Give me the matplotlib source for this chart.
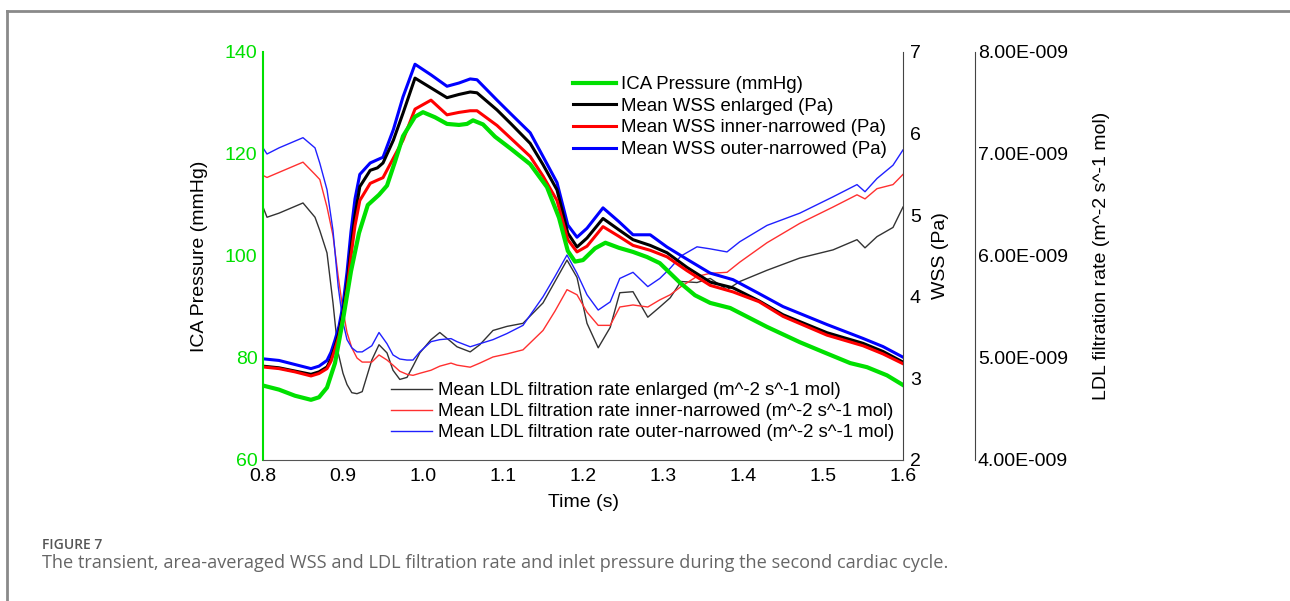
import matplotlib
matplotlib.use("Agg")
import matplotlib.pyplot as plt
from matplotlib.lines import Line2D

plt.rcParams['font.family'] = ['Liberation Sans', 'DejaVu Sans']
plt.rcParams['lines.solid_joinstyle'] = 'round'

# ICA pressure (mmHg)
p_t = [0.8, 0.82, 0.84, 0.86, 0.87, 0.88, 0.89, 0.9, 0.91, 0.92, 0.931, 0.945, 0.955, 0.965, 0.975,
       0.99, 1.0, 1.015, 1.03, 1.045, 1.055, 1.0625, 1.075, 1.09, 1.11, 1.134, 1.155, 1.17,
       1.181, 1.19, 1.2, 1.215, 1.228, 1.245, 1.2625, 1.28, 1.296, 1.321, 1.34, 1.359, 1.384,
       1.43, 1.471, 1.5, 1.534, 1.555, 1.58, 1.6]
p_v = [74.6, 73.8, 72.6, 71.8, 72.3, 74.2, 79.0, 87.5, 97.0, 104.5, 110.0, 112.0, 113.8, 118.5, 123.5,
       127.3, 128.2, 127.2, 125.9, 125.7, 125.9, 126.6, 125.8, 123.4, 121.0, 118.0, 113.5, 107.5,
       101.0, 98.9, 99.2, 101.5, 102.6, 101.6, 100.8, 99.8, 98.6, 94.8, 92.3, 90.8, 89.8,
       86.1, 83.1, 81.2, 79.0, 78.2, 76.6, 74.7]

# mean WSS (Pa)
w_t = [0.8, 0.82, 0.84, 0.86, 0.87, 0.88, 0.885, 0.89, 0.895, 0.9, 0.905, 0.91, 0.915, 0.921, 0.934,
       0.943, 0.95, 0.963, 0.975, 0.99, 1.01, 1.03, 1.045, 1.059, 1.0675, 1.0925, 1.11, 1.134,
       1.15, 1.1675, 1.181, 1.1925, 1.205, 1.225, 1.245, 1.2625, 1.284, 1.305, 1.33, 1.359,
       1.3875, 1.42, 1.45, 1.505, 1.55, 1.575, 1.6]
wss_enl = [3.15, 3.13, 3.09, 3.05, 3.08, 3.14, 3.24, 3.39, 3.56, 3.80, 4.15, 4.60, 5.00, 5.35, 5.55,
           5.58, 5.64, 5.92, 6.25, 6.68, 6.56, 6.44, 6.48, 6.51, 6.50, 6.29, 6.12, 5.88,
           5.62, 5.31, 4.78, 4.61, 4.72, 4.96, 4.82, 4.70, 4.63, 4.54, 4.36, 4.18,
           4.11, 3.95, 3.78, 3.56, 3.43, 3.33, 3.20]
wss_inn = [3.14, 3.12, 3.08, 3.03, 3.06, 3.12, 3.21, 3.36, 3.52, 3.75, 4.08, 4.50, 4.87, 5.18, 5.39,
           5.43, 5.46, 5.70, 5.92, 6.30, 6.41, 6.23, 6.26, 6.28, 6.28, 6.10, 5.94, 5.72,
           5.48, 5.18, 4.70, 4.55, 4.62, 4.86, 4.74, 4.63, 4.57, 4.49, 4.32, 4.14,
           4.06, 3.94, 3.76, 3.53, 3.40, 3.30, 3.18]
wss_out = [3.24, 3.22, 3.17, 3.12, 3.15, 3.22, 3.32, 3.47, 3.64, 3.90, 4.30, 4.80, 5.20, 5.50, 5.64,
           5.68, 5.71, 6.05, 6.45, 6.85, 6.72, 6.58, 6.62, 6.67, 6.66, 6.41, 6.24, 6.01,
           5.72, 5.40, 4.88, 4.73, 4.84, 5.09, 4.92, 4.76, 4.76, 4.61, 4.46, 4.29,
           4.21, 4.04, 3.88, 3.66, 3.49, 3.39, 3.26]

# mean LDL filtration rate (1e-9 m^-2 s^-1 mol)
l_t = [0.8, 0.805, 0.82, 0.835, 0.85, 0.865, 0.871, 0.88, 0.8875, 0.894, 0.9, 0.905, 0.911, 0.9175,
       0.924, 0.936, 0.945, 0.955, 0.9625, 0.971, 0.98, 0.9875, 0.996, 1.01, 1.021, 1.035,
       1.0425, 1.059, 1.071, 1.0875, 1.105, 1.125, 1.15, 1.165, 1.18, 1.1925, 1.205, 1.219,
       1.234, 1.246, 1.2625, 1.281, 1.296, 1.309, 1.3225, 1.3425, 1.359, 1.38, 1.396, 1.43,
       1.471, 1.5125, 1.5425, 1.5525, 1.5675, 1.5875, 1.6]
ldl_enl = [6.48, 6.38, 6.42, 6.47, 6.52, 6.38, 6.25, 6.03, 5.54, 5.05, 4.85, 4.74, 4.66, 4.65,
           4.67, 4.98, 5.13, 5.05, 4.88, 4.79, 4.81, 4.92, 5.05, 5.18, 5.25, 5.16,
           5.11, 5.06, 5.13, 5.27, 5.31, 5.34, 5.54, 5.75, 5.96, 5.79, 5.34, 5.10,
           5.30, 5.64, 5.65, 5.40, 5.50, 5.59, 5.75, 5.74, 5.78, 5.67, 5.75, 5.86,
           5.98, 6.06, 6.16, 6.08, 6.19, 6.28, 6.48]
ldl_inn = [6.79, 6.77, 6.82, 6.87, 6.92, 6.80, 6.75, 6.48, 6.20, 5.80, 5.47, 5.25, 5.10, 5.00,
           4.96, 4.96, 5.03, 4.98, 4.93, 4.87, 4.84, 4.83, 4.85, 4.88, 4.92, 4.95,
           4.93, 4.91, 4.95, 5.01, 5.04, 5.08, 5.27, 5.46, 5.67, 5.62, 5.45, 5.32,
           5.32, 5.50, 5.52, 5.50, 5.57, 5.62, 5.70, 5.80, 5.83, 5.84, 5.94, 6.13,
           6.32, 6.48, 6.60, 6.56, 6.66, 6.70, 6.80]
ldl_out = [7.06, 7.00, 7.06, 7.11, 7.16, 7.06, 6.91, 6.65, 6.25, 5.70, 5.35, 5.18, 5.10, 5.06,
           5.06, 5.12, 5.25, 5.14, 5.03, 4.99, 4.98, 4.98, 5.06, 5.16, 5.18, 5.19,
           5.16, 5.11, 5.14, 5.18, 5.24, 5.32, 5.60, 5.80, 6.01, 5.83, 5.62, 5.47,
           5.55, 5.78, 5.84, 5.70, 5.78, 5.88, 6.00, 6.09, 6.07, 6.04, 6.14, 6.30,
           6.42, 6.58, 6.70, 6.63, 6.76, 6.89, 7.04]

W, H = 1290, 601
fig = plt.figure(figsize=(W / 100, H / 100), dpi=100)

# page frame (top and left rule)
fig.add_artist(Line2D([7 / W, 1], [1 - 11 / H, 1 - 11 / H], color='#8a8a8a', lw=2))
fig.add_artist(Line2D([7 / W, 7 / W], [0, 1 - 11 / H], color='#8a8a8a', lw=2))

green = '#00e000'
ax = fig.add_axes([263 / W, 1 - 460 / H, 640 / W, 408 / H])
ax2 = ax.twinx()
ax3 = ax.twinx()
ax3.spines['right'].set_position(('axes', (975 - 263) / 640))

ax3.plot(l_t, ldl_enl, color='#333333', lw=1)
ax3.plot(l_t, ldl_inn, color='#ff3030', lw=1)
ax3.plot(l_t, ldl_out, color='#2020ff', lw=1)
ax2.plot(w_t, wss_out, color='#0000ff', lw=2.2)
ax2.plot(w_t, wss_enl, color='#000000', lw=2.2)
ax2.plot(w_t, wss_inn, color='#ff0000', lw=2.2)
ax.plot(p_t, p_v, color=green, lw=3)
ax.set_zorder(3)
ax.patch.set_visible(False)
ax2.set_zorder(2)

ax.set_xlim(0.8, 1.6)
ax.set_ylim(60, 140)
ax2.set_ylim(2, 7)
ax3.set_ylim(4, 8)
ax.set_xticks([0.8, 0.9, 1.0, 1.1, 1.2, 1.3, 1.4, 1.5, 1.6])
ax.set_xticklabels(['0.8', '0.9', '1.0', '1.1', '1.2', '1.3', '1.4', '1.5', '1.6'])
ax.set_yticks([60, 80, 100, 120, 140])
ax2.set_yticks([2, 3, 4, 5, 6, 7])
ax3.set_yticks([4, 5, 6, 7, 8])
ax3.set_yticklabels(['4.00E-009', '5.00E-009', '6.00E-009', '7.00E-009', '8.00E-009'])

for a in (ax, ax2, ax3):
    a.spines['top'].set_visible(False)
    a.tick_params(length=0, labelsize=14)
ax.spines['left'].set_color(green)
ax.spines['left'].set_linewidth(1.5)
ax.spines['right'].set_visible(False)
ax.spines['bottom'].set_color('#555555')
ax2.spines['left'].set_visible(False)
ax2.spines['bottom'].set_visible(False)
ax2.spines['right'].set_color('#444444')
ax3.spines['left'].set_visible(False)
ax3.spines['bottom'].set_visible(False)
ax3.spines['right'].set_color('#444444')
ax.tick_params(axis='y', colors=green, pad=4)
ax.tick_params(axis='x', pad=6)
ax2.tick_params(axis='y', pad=5)
ax3.tick_params(axis='y', pad=2)

ax.set_xlabel('Time (s)', fontsize=14, labelpad=6)
ax.set_ylabel('ICA Pressure (mmHg)', fontsize=14, labelpad=12)
ax2.set_ylabel('WSS (Pa)', fontsize=14, labelpad=8)
ax3.set_ylabel('LDL filtration rate (m^-2 s^-1 mol)', fontsize=14, labelpad=18)

h1 = [Line2D([], [], color=green, lw=3), Line2D([], [], color='black', lw=2.2),
      Line2D([], [], color='red', lw=2.2), Line2D([], [], color='blue', lw=2.2)]
fig.legend(h1, ['ICA Pressure (mmHg)', 'Mean WSS enlarged (Pa)',
                'Mean WSS inner-narrowed (Pa)', 'Mean WSS outer-narrowed (Pa)'],
           loc='upper left', bbox_to_anchor=(573 / W, 1 - 76 / H), frameon=False,
           fontsize=13.4, handlelength=2.3, handletextpad=0.3, labelspacing=0.25,
           borderpad=0, borderaxespad=0)
h2 = [Line2D([], [], color='#333333', lw=1), Line2D([], [], color='#ff3030', lw=1),
      Line2D([], [], color='#2020ff', lw=1)]
fig.legend(h2, ['Mean LDL filtration rate enlarged (m^-2 s^-1 mol)',
                'Mean LDL filtration rate inner-narrowed (m^-2 s^-1 mol)',
                'Mean LDL filtration rate outer-narrowed (m^-2 s^-1 mol)'],
           loc='upper left', bbox_to_anchor=(391 / W, 1 - 382 / H), frameon=False,
           fontsize=13.4, handlelength=2.2, handletextpad=0.35, labelspacing=0.22,
           borderpad=0, borderaxespad=0)

fig.text(42 / W, 1 - 545 / H, 'FIGURE 7', fontsize=10, color='#555555',
         family='Open Sans', va='center', fontweight='semibold')
fig.text(42 / W, 1 - 563 / H,
         'The transient, area-averaged WSS and LDL filtration rate and inlet pressure during the second cardiac cycle.',
         fontsize=13.1, color='#666666', family='Open Sans', va='center')

fig.savefig('out.png', dpi=100)
